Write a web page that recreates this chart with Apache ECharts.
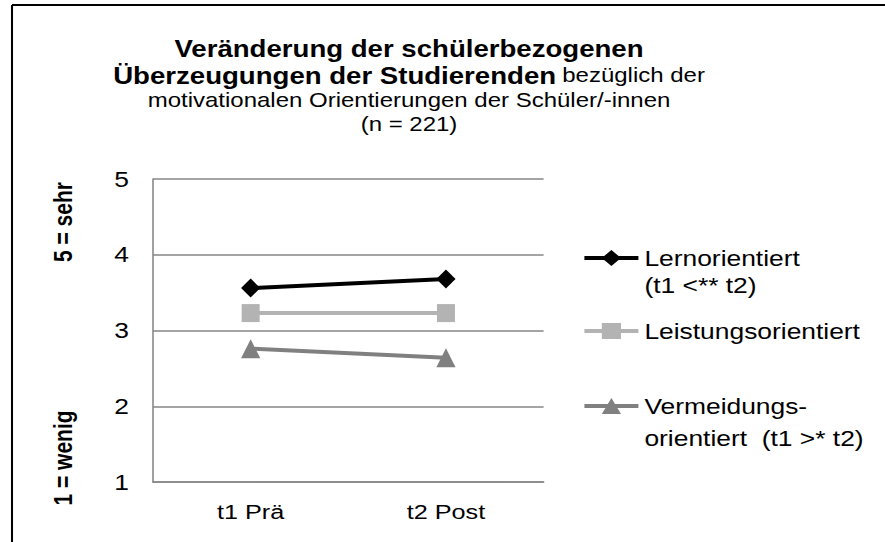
<!DOCTYPE html>
<html><head><meta charset="utf-8">
<script src="https://cdn.jsdelivr.net/npm/echarts@6/dist/echarts.min.js"></script>
<style>
html,body{margin:0;padding:0;background:#fff;overflow:hidden}
#wrap{width:885px;height:542px;overflow:hidden}
#c{width:737.5px;height:542px;transform:scaleX(1.2);transform-origin:0 0}
</style>
</head><body><div id="wrap"><div id="c"></div></div>
<script>
const categories = ['t1 Prä', 't2 Post'];
const seriesNames = ['Lernorientiert', 'Leistungsorientiert', 'Vermeidungsorientiert'];
const legendLabels = [['Lernorientiert', '(t1 <** t2)'], ['Leistungsorientiert'], ['Vermeidungs-', 'orientiert  (t1 >* t2)']];
const lernValues = [3.56, 3.68];
const leistungValues = [3.23, 3.23];
const vermeidungValues = [2.76, 2.64];
const yTicks = [1, 2, 3, 4, 5];

const SX = 1.2;               // horizontal stretch of the reference picture
const X = v => v / SX;        // convert picture x to chart x
const F = 'Arial, "Liberation Sans", sans-serif';
const LF = 22;
const chart = echarts.init(document.getElementById('c'), null, { renderer: 'svg' });
function legendItem(center, idx, lh) {
  const lines = legendLabels[idx];
  const multi = lines.length > 1;
  const text = multi ? '\u00a0\n' + lines.join('\n') : lines[0];
  const h = multi ? 3 * lh : lh;
  return { left: X(582), top: center - h / 2, padding: 0, orient: 'vertical', itemWidth: X(54), itemHeight: 20,
    data: [seriesNames[idx]], formatter: () => text,
    textStyle: { fontFamily: F, fontSize: LF, color: '#000', lineHeight: lh },
    lineStyle: { width: 4 } };
}
chart.setOption({
  backgroundColor: '#fff',
  animation: false,
  title: [
    { text: 'Veränderung der schülerbezogenen', left: X(403), top: 32, textAlign: 'center',
      textStyle: { fontFamily: F, fontSize: 23, fontWeight: 'bold', color: '#000' } },
    { text: '{b|Überzeugungen der Studierenden} {n|bezüglich der}', left: X(403), top: 59, textAlign: 'center',
      textStyle: { rich: { b: { fontFamily: F, fontSize: 23, fontWeight: 'bold', color: '#000' },
                           n: { fontFamily: F, fontSize: 20, fontWeight: 'normal', color: '#000' } } } },
    { text: 'motivationalen Orientierungen der Schüler/-innen', left: X(403), top: 85, textAlign: 'center',
      textStyle: { fontFamily: F, fontSize: 20, fontWeight: 'normal', color: '#000' } },
    { text: '(n = 221)', left: X(403), top: 109, textAlign: 'center',
      textStyle: { fontFamily: F, fontSize: 20, fontWeight: 'normal', color: '#000' } }
  ],
  legend: [
    legendItem(258, 0, 27),
    legendItem(331, 1, 27),
    legendItem(406, 2, 32)
  ],
  grid: { left: X(153), right: X(885 - 543), top: 179, bottom: 60 },
  xAxis: {
    type: 'category', data: categories, boundaryGap: true,
    axisLine: { lineStyle: { color: '#868686', width: 1.5 } },
    axisTick: { show: false },
    axisLabel: { fontFamily: F, fontSize: 21, color: '#000', margin: 19 }
  },
  yAxis: {
    type: 'value', min: 1, max: 5, interval: 1,
    axisLine: { show: true, lineStyle: { color: '#868686', width: 1.3 } },
    axisTick: { show: false },
    axisLabel: { fontFamily: F, fontSize: 22, color: '#000', margin: X(24) },
    splitLine: { lineStyle: { color: '#868686', width: 1.5 } }
  },
  graphic: [
    { type: 'line', shape: { x1: X(12), y1: 5, x2: X(885), y2: 5 }, style: { stroke: '#000', lineWidth: 2 } },
    { type: 'line', shape: { x1: X(12), y1: 5, x2: X(12), y2: 542 }, style: { stroke: '#000', lineWidth: 1.7 } },
    { type: 'text', x: X(63), y: 222, rotation: Math.PI / 2, style: { text: '5 = sehr', font: 'bold 21px ' + F, fill: '#000', align: 'center', verticalAlign: 'middle' } },
    { type: 'text', x: X(63), y: 458, rotation: Math.PI / 2, style: { text: '1 = wenig', font: 'bold 21px ' + F, fill: '#000', align: 'center', verticalAlign: 'middle' } }
  ],
  series: [
    { name: seriesNames[0], type: 'line', data: lernValues, symbol: 'diamond', symbolSize: [16, 19],
      lineStyle: { color: '#000', width: 4 }, itemStyle: { color: '#000' } },
    { name: seriesNames[1], type: 'line', data: leistungValues, symbol: 'rect', symbolSize: [15, 18],
      lineStyle: { color: '#b3b3b3', width: 4 }, itemStyle: { color: '#b3b3b3' } },
    { name: seriesNames[2], type: 'line', data: vermeidungValues, symbol: 'triangle', symbolSize: [16, 19],
      lineStyle: { color: '#808080', width: 4 }, itemStyle: { color: '#808080' } }
  ]
});
</script></body></html>
